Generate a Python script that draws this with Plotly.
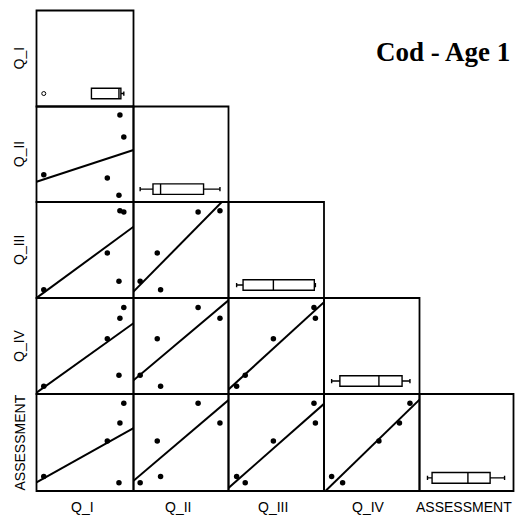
import numpy as np
import plotly.graph_objects as go

# ---- data (arbitrary 0-100 index scale) ----
var_names = ["Q_I", "Q_II", "Q_III", "Q_IV", "ASSESSMENT"]
q_i = [86, 90, 7.5, 73, 85]
q_ii = [91, 68, 28.5, 25, 7]
q_iii = [91, 89.5, 8.5, 47, 17.5]
q_iv = [79, 90, 8, 57.5, 19.5]
assessment = [70, 90.5, 15, 51.5, 8.5]
title_text = "Cod - Age 1"

series = [q_i, q_ii, q_iii, q_iv, assessment]

W, H = 515, 522
col_edges = [36.5, 133.5, 228.5, 324, 419.5, 513.5]
row_edges = [10.5, 106.5, 202, 298, 394, 491]
AX_RANGE = [0, 100]
BOX_POS = 0.135

fig = go.Figure()
layout = dict(
    width=W, height=H,
    margin=dict(l=0, r=0, t=0, b=0),
    paper_bgcolor="white", plot_bgcolor="white",
    showlegend=False,
)

axis_style = dict(
    showline=False, showticklabels=False, ticks="", showgrid=False,
    zeroline=False, fixedrange=True,
)

shapes = []
k = 0
for r in range(5):
    for c in range(r + 1):
        k += 1
        xname = "x" if k == 1 else f"x{k}"
        yname = "y" if k == 1 else f"y{k}"
        xkey = "xaxis" if k == 1 else f"xaxis{k}"
        ykey = "yaxis" if k == 1 else f"yaxis{k}"
        xdom = [col_edges[c] / W, col_edges[c + 1] / W]
        ydom = [1 - row_edges[r + 1] / H, 1 - row_edges[r] / H]
        layout[xkey] = dict(axis_style, domain=xdom, range=AX_RANGE, anchor=yname)
        shapes.append(dict(type="rect", xref="paper", yref="paper",
                           x0=xdom[0], x1=xdom[1], y0=ydom[0], y1=ydom[1],
                           line=dict(color="black", width=1.8), layer="above"))
        if r == c:
            layout[ykey] = dict(axis_style, domain=ydom, range=[0, 1], anchor=xname)
            fig.add_trace(go.Box(
                x=series[c], y=[BOX_POS] * len(series[c]), orientation="h",
                width=0.11, whiskerwidth=0.4, boxpoints="outliers",
                pointpos=0, jitter=0, fillcolor="white",
                line=dict(color="black", width=1.4),
                marker=dict(symbol="circle-open", size=4, color="black",
                            line=dict(width=1)),
                xaxis=xname, yaxis=yname, hoverinfo="x",
            ))
        else:
            layout[ykey] = dict(axis_style, domain=ydom, range=AX_RANGE, anchor=xname)
            xv = np.array(series[c], dtype=float)
            yv = np.array(series[r], dtype=float)
            slope, intercept = np.polyfit(xv, yv, 1)
            xs = np.array(AX_RANGE, dtype=float)
            fig.add_trace(go.Scatter(
                x=xs, y=intercept + slope * xs, mode="lines",
                line=dict(color="black", width=2),
                xaxis=xname, yaxis=yname, hoverinfo="skip",
            ))
            fig.add_trace(go.Scatter(
                x=xv, y=yv, mode="markers",
                marker=dict(color="black", size=5.5),
                xaxis=xname, yaxis=yname,
            ))

annotations = []
label_font = dict(family="Liberation Sans, Arial, sans-serif", size=14, color="black")
for i, name in enumerate(var_names):
    cy = (row_edges[i] + row_edges[i + 1]) / 2
    annotations.append(dict(
        text=name, x=19 / W, y=1 - cy / H, xref="paper", yref="paper",
        xanchor="center", yanchor="middle", showarrow=False, textangle=-90,
        font=label_font,
    ))
    cx = (col_edges[i] + col_edges[i + 1]) / 2 - 3
    annotations.append(dict(
        text=name, x=cx / W, y=1 - 507 / H, xref="paper", yref="paper",
        xanchor="center", yanchor="middle", showarrow=False,
        font=label_font,
    ))
annotations.append(dict(
    text="<b>" + title_text + "</b>", x=443 / W, y=1 - 52 / H,
    xref="paper", yref="paper", xanchor="center", yanchor="middle",
    showarrow=False,
    font=dict(family="Liberation Serif, Times New Roman, serif", size=27, color="black"),
))
layout["annotations"] = annotations
layout["shapes"] = shapes

fig.update_layout(**layout)
fig.write_html("out.html")
